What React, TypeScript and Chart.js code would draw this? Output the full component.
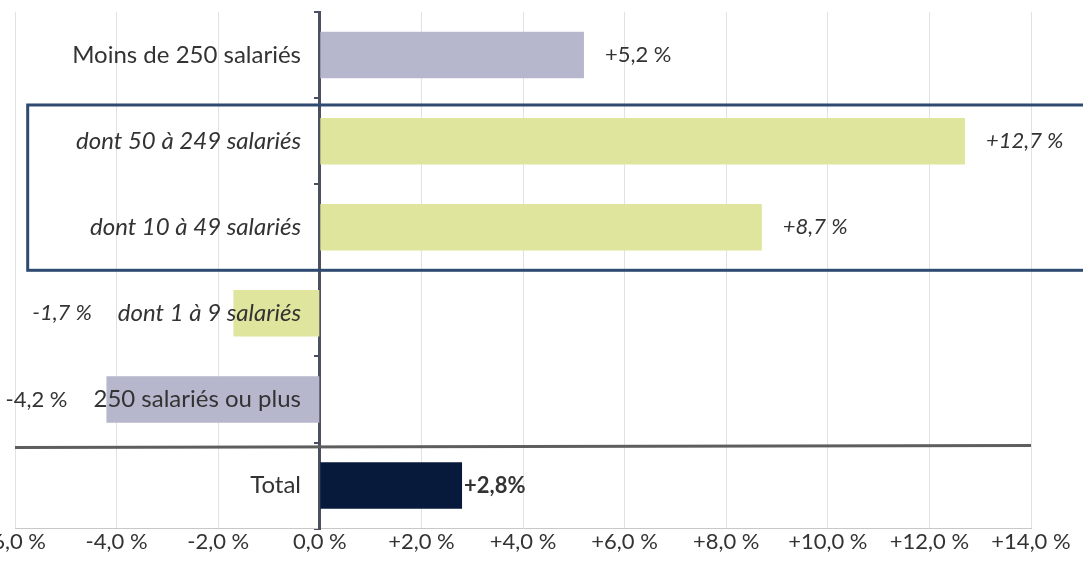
import React, { useEffect, useRef } from "react";
import { Chart, registerables } from "chart.js";

Chart.register(...registerables);

const categories = [
  "Moins de 250 salariés",
  "dont 50 à 249 salariés",
  "dont 10 à 49 salariés",
  "dont 1 à 9 salariés",
  "250 salariés ou plus",
  "Total",
];
const values = [5.2, 12.7, 8.7, -1.7, -4.2, 2.8];
const barColors = ["#b6b6cd", "#dfe59c", "#dfe59c", "#dfe59c", "#b6b6cd", "#081a3c"];
const italicRows = [false, true, true, true, false, false];
const boldRows = [false, false, false, false, false, true];
const xTicksMin = -6;
const xTicksMax = 14;
const xTickStep = 2;

const FONT = "Lato";
const TEXT = "#333333";
const CAT_SIZE = 24;
const VAL_SIZE = 22;
const LABEL_AXIS_VALUE = -0.37; // category labels end a little left of the zero axis

const fmtTick = (v: number) =>
  v === 0 ? "0,0 %" : (v > 0 ? "+" : "") + v.toFixed(1).replace(".", ",") + " %";
const fmtValue = (v: number, i: number) =>
  (v > 0 ? "+" : "") + v.toFixed(1).replace(".", ",") + (boldRows[i] ? "%" : " %");

const catFont = (i: number) =>
  `${italicRows[i] ? "italic " : ""}normal ${CAT_SIZE}px ${FONT}`;
const valFont = (i: number) =>
  `${italicRows[i] ? "italic " : ""}${boldRows[i] ? "bold" : "normal"} ${VAL_SIZE}px ${FONT}`;

const overlayPlugin = {
  id: "overlay",
  afterDatasetsDraw(chart: any) {
    const { ctx, chartArea, scales } = chart;
    const x = scales.x;
    const y = scales.y;
    const meta = chart.getDatasetMeta(0);
    ctx.save();

    // separator between detail rows and total
    const sepY = y.getPixelForValue(4.5);
    ctx.strokeStyle = "#5e5e5e";
    ctx.lineWidth = 3;
    ctx.beginPath();
    ctx.moveTo(chartArea.left, sepY + 5);
    ctx.lineTo(chartArea.right, sepY + 3);
    ctx.stroke();

    // highlight box around rows 1-2
    const bx1 = x.getPixelForValue(-5.75);
    const bx2 = x.getPixelForValue(15.5);
    const by1 = y.getPixelForValue(0.58);
    const by2 = y.getPixelForValue(2.5);
    ctx.strokeStyle = "#2f4a70";
    ctx.lineWidth = 3;
    ctx.strokeRect(bx1, by1, bx2 - bx1, by2 - by1);

    // value labels
    const labelRight = x.getPixelForValue(LABEL_AXIS_VALUE);
    ctx.fillStyle = TEXT;
    ctx.textBaseline = "middle";
    meta.data.forEach((bar: any, i: number) => {
      const v = values[i];
      const label = fmtValue(v, i);
      if (v >= 0) {
        ctx.font = valFont(i);
        ctx.textAlign = "left";
        ctx.fillText(label, bar.x + (boldRows[i] ? 2 : 21), bar.y);
      } else {
        ctx.font = catFont(i);
        const w = ctx.measureText(categories[i]).width;
        ctx.font = valFont(i);
        ctx.textAlign = "right";
        ctx.fillText(label, labelRight - w - 26, bar.y);
      }
    });
    ctx.restore();
  },
};

export default function App() {
  const ref = useRef<HTMLCanvasElement | null>(null);

  useEffect(() => {
    if (!ref.current) return;
    const chart = new Chart(ref.current, {
      type: "bar",
      data: {
        labels: categories,
        datasets: [
          {
            data: values,
            backgroundColor: barColors,
            borderWidth: 0,
            barPercentage: 0.54,
            categoryPercentage: 1,
          },
        ],
      },
      options: {
        indexAxis: "y",
        responsive: false,
        animation: false,
        layout: { padding: { left: 55, right: 52, top: 12, bottom: 10 } },
        plugins: {
          legend: { display: false },
          tooltip: { enabled: false },
        },
        scales: {
          x: {
            type: "linear",
            min: xTicksMin,
            max: xTicksMax,
            position: "bottom",
            grid: { color: "#e2e2e2", lineWidth: 1, drawTicks: false },
            border: { display: true, color: "#c8c8c8", width: 1 },
            ticks: {
              stepSize: xTickStep,
              autoSkip: false,
              maxRotation: 0,
              padding: 0,
              color: TEXT,
              font: { family: FONT, size: 22 },
              callback: (v: any) => fmtTick(Number(v)),
            },
          },
          y: {
            type: "category",
            position: { x: LABEL_AXIS_VALUE } as any,
            offset: true,
            grid: { display: false, offset: true },
            border: { display: false },
            ticks: {
              z: 1,
              padding: 0,
              color: TEXT,
              autoSkip: false,
              font: (c: any) => ({
                family: FONT,
                size: CAT_SIZE,
                lineHeight: 1,
                style: italicRows[c.index] ? "italic" : "normal",
              }),
            },
          },
          y2: {
            type: "category",
            position: { x: 0 } as any,
            offset: true,
            grid: {
              drawOnChartArea: false,
              drawTicks: true,
              tickLength: 4,
              color: "#4b505e",
              lineWidth: 2,
              offset: true,
            },
            border: { display: true, color: "#4b505e", width: 3 },
            ticks: { display: false },
          },
        },
      },
      plugins: [overlayPlugin],
    } as any);
    return () => chart.destroy();
  }, []);

  return (
    <div style={{ position: "absolute", left: -40, top: 0, width: 1123, height: 565 }}>
      <canvas ref={ref} width={1123} height={565} style={{ display: "block" }} />
    </div>
  );
}
